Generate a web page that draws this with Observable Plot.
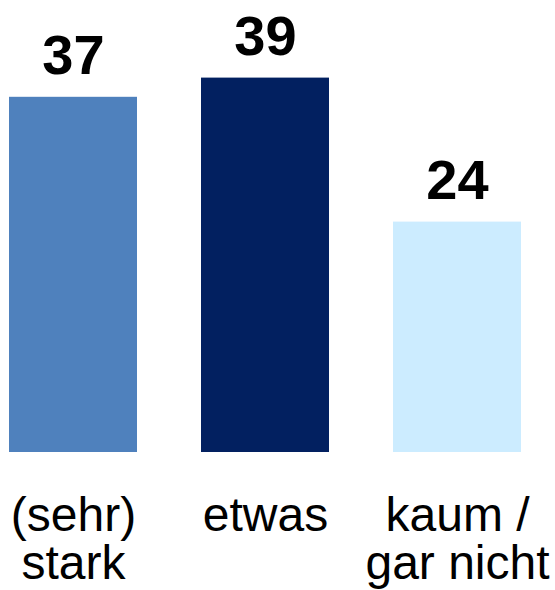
<!DOCTYPE html>
<html>
<head>
<meta charset="utf-8">
<script src="https://cdn.jsdelivr.net/npm/d3@7"></script>
<script src="https://cdn.jsdelivr.net/npm/@observablehq/plot@0.6"></script>
<style>
  html, body { margin: 0; padding: 0; background: #fff; }
  #chart svg { display: block; }
</style>
</head>
<body>
<div id="chart"></div>
<script>
const categories = ["(sehr) stark", "etwas", "kaum / gar nicht"];
const tickLabels = ["(sehr)\nstark", "etwas", "kaum /\ngar nicht"];
const values = [37, 39, 24];
const colors = ["#4F81BD", "#022060", "#CCECFF"];

const data = categories.map((c, i) => ({cat: c, label: tickLabels[i], value: values[i], color: colors[i]}));

const chart = Plot.plot({
  width: 555,
  height: 590,
  marginTop: 68,
  marginBottom: 138,
  marginLeft: 9,
  marginRight: 34,
  style: {fontFamily: "'Liberation Sans', Arial, sans-serif", background: "#fff"},
  x: {domain: categories, paddingInner: 1/3, paddingOuter: 0, axis: null},
  y: {domain: [0, 40], axis: null},
  marks: [
    Plot.barY(data, {x: "cat", y: "value", fill: "color"}),
    Plot.text(data, {x: "cat", y: "value", text: d => String(d.value), lineAnchor: "bottom", dy: -23, fontSize: 56, fontWeight: "bold", fill: "#000"}),
    Plot.text(data, {x: "cat", text: "label", frameAnchor: "bottom", lineAnchor: "top", dy: 44, fontSize: 48, lineHeight: 1.0, fill: "#000"})
  ]
});
document.getElementById("chart").appendChild(chart);
</script>
</body>
</html>
